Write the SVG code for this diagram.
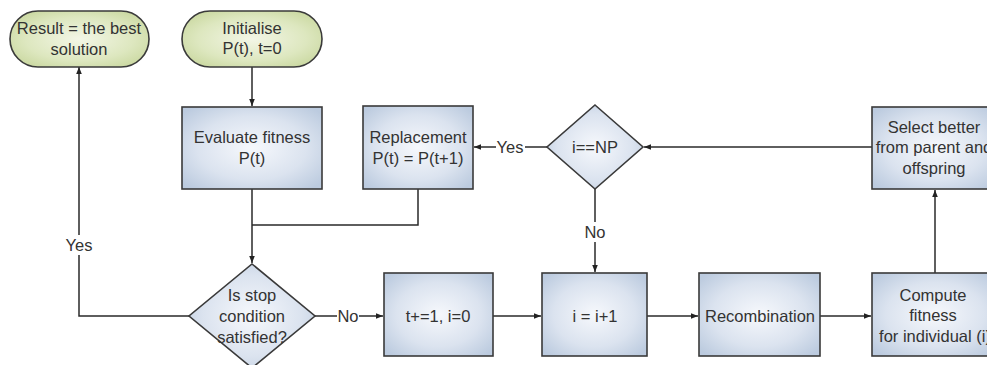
<svg xmlns="http://www.w3.org/2000/svg" width="987" height="365" viewBox="0 0 987 365">
<defs>
<radialGradient id="gb" cx="50%" cy="50%" r="65%">
<stop offset="0" stop-color="#f6f8fc"/>
<stop offset="0.6" stop-color="#dbe3ef"/>
<stop offset="1" stop-color="#bccbdf"/>
</radialGradient>
<radialGradient id="gg" cx="50%" cy="50%" r="65%">
<stop offset="0" stop-color="#f3f6e6"/>
<stop offset="0.6" stop-color="#dde7bf"/>
<stop offset="1" stop-color="#c6d59a"/>
</radialGradient>
<marker id="ah" viewBox="0 0 10 10" refX="10" refY="5" markerWidth="7" markerHeight="7" markerUnits="userSpaceOnUse" orient="auto">
<path d="M0,1 L10,5 L0,9 z" fill="#222"/>
</marker>
</defs>
<style>
.box{fill:url(#gb);stroke:#3a3a3a;stroke-width:1.6}
.term{fill:url(#gg);stroke:#3a3a3a;stroke-width:1.6}
.t{font-family:"Liberation Sans",Arial,sans-serif;font-size:16.5px;fill:#333;text-anchor:middle;dominant-baseline:central}
.c{fill:none;stroke:#2a2a2a;stroke-width:1.5}
.lbl{fill:#fff}
</style>
<rect width="987" height="365" fill="#fff"/>

<g id="connectors">
<path class="c" d="M252,67 V106" marker-end="url(#ah)"/>
<path class="c" d="M252,189 V263" marker-end="url(#ah)"/>
<path class="c" d="M418,189 V225 H252"/>
<path class="c" d="M189,316 H79 V67" marker-end="url(#ah)"/>
<path class="c" d="M315,316 H383" marker-end="url(#ah)"/>
<path class="c" d="M493,316 H541" marker-end="url(#ah)"/>
<path class="c" d="M647,316 H698" marker-end="url(#ah)"/>
<path class="c" d="M820,316 H871" marker-end="url(#ah)"/>
<path class="c" d="M935,273 V190" marker-end="url(#ah)"/>
<path class="c" d="M872,147 H644" marker-end="url(#ah)"/>
<path class="c" d="M547,147 H474" marker-end="url(#ah)"/>
<path class="c" d="M595,189 V272" marker-end="url(#ah)"/>
<rect class="lbl" x="64" y="235" width="30" height="20"/>
<text class="t" x="79" y="245">Yes</text>
<rect class="lbl" x="337" y="306" width="22" height="20"/>
<text class="t" x="348" y="316">No</text>
<rect class="lbl" x="496" y="137" width="29" height="20"/>
<text class="t" x="510" y="147">Yes</text>
<rect class="lbl" x="584" y="222" width="22" height="20"/>
<text class="t" x="595" y="232">No</text>
</g>

<g id="result">
<rect class="term" x="10" y="11" width="139" height="56" rx="28" ry="28"/>
<text class="t" x="79" y="28">Result = the best</text>
<text class="t" x="79" y="49">solution</text>
</g>

<g id="initialise">
<rect class="term" x="182" y="11" width="140" height="56" rx="28" ry="28"/>
<text class="t" x="252" y="28">Initialise</text>
<text class="t" x="252" y="48">P(t), t=0</text>
</g>

<g id="evaluate">
<rect class="box" x="182" y="107" width="140" height="82"/>
<text class="t" x="252" y="137">Evaluate fitness</text>
<text class="t" x="252" y="158">P(t)</text>
</g>

<g id="replacement">
<rect class="box" x="363" y="106" width="110" height="83"/>
<text class="t" x="418" y="137">Replacement</text>
<text class="t" x="418" y="158">P(t) = P(t+1)</text>
</g>

<g id="inp">
<path class="box" d="M595,105 L643,147 L595,189 L547,147 Z"/>
<text class="t" x="595" y="147">i==NP</text>
</g>

<g id="select">
<rect class="box" x="872" y="107" width="126" height="82"/>
<text class="t" x="934" y="127">Select better</text>
<text class="t" x="934" y="147">from parent and</text>
<text class="t" x="934" y="168">offspring</text>
</g>

<g id="stop">
<path class="box" d="M252,264 L315,316 L252,368 L189,316 Z"/>
<text class="t" x="252" y="295">Is stop</text>
<text class="t" x="252" y="316">condition</text>
<text class="t" x="252" y="337">satisfied?</text>
</g>

<g id="tinc">
<rect class="box" x="384" y="273" width="109" height="83"/>
<text class="t" x="438" y="316">t+=1, i=0</text>
</g>

<g id="iinc">
<rect class="box" x="542" y="273" width="105" height="83"/>
<text class="t" x="595" y="316">i = i+1</text>
</g>

<g id="recomb">
<rect class="box" x="699" y="273" width="121" height="83"/>
<text class="t" x="760" y="316">Recombination</text>
</g>

<g id="compute">
<rect class="box" x="872" y="273" width="126" height="83"/>
<text class="t" x="933" y="295">Compute</text>
<text class="t" x="933" y="315">fitness</text>
<text class="t" x="935" y="336">for individual (i)</text>
</g>
</svg>
